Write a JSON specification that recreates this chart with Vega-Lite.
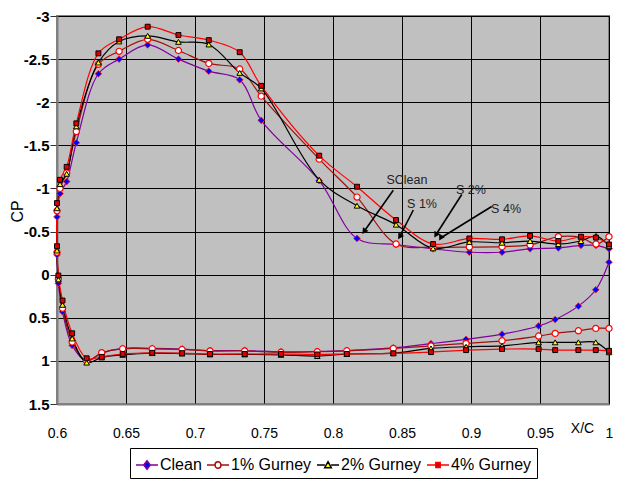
{
  "$schema": "https://vega.github.io/schema/vega-lite/v6.json",
  "width": 552,
  "height": 388,
  "autosize": {"type": "none"},
  "padding": {"left": 57, "top": 16, "right": 18, "bottom": 78},
  "background": "white",
  "config": {
    "font": "Liberation Sans",
    "view": {"fill": "#C0C0C0", "stroke": "#808080", "strokeWidth": 2}
  },
  "datasets": {
    "cp": [
      {"s":"Clean","i":0,"x":1.0,"cp":-0.30},
      {"s":"Clean","i":1,"x":0.9906,"cp":-0.34},
      {"s":"Clean","i":2,"x":0.9797,"cp":-0.34},
      {"s":"Clean","i":3,"x":0.9633,"cp":-0.31},
      {"s":"Clean","i":4,"x":0.9428,"cp":-0.30},
      {"s":"Clean","i":5,"x":0.9225,"cp":-0.26},
      {"s":"Clean","i":6,"x":0.8988,"cp":-0.26},
      {"s":"Clean","i":7,"x":0.8725,"cp":-0.30},
      {"s":"Clean","i":8,"x":0.8457,"cp":-0.35},
      {"s":"Clean","i":9,"x":0.8174,"cp":-0.42},
      {"s":"Clean","i":10,"x":0.79,"cp":-1.09},
      {"s":"Clean","i":11,"x":0.748,"cp":-1.79},
      {"s":"Clean","i":12,"x":0.7324,"cp":-2.26},
      {"s":"Clean","i":13,"x":0.71,"cp":-2.36},
      {"s":"Clean","i":14,"x":0.688,"cp":-2.50},
      {"s":"Clean","i":15,"x":0.6657,"cp":-2.665},
      {"s":"Clean","i":16,"x":0.645,"cp":-2.50},
      {"s":"Clean","i":17,"x":0.63,"cp":-2.33},
      {"s":"Clean","i":18,"x":0.614,"cp":-1.53},
      {"s":"Clean","i":19,"x":0.607,"cp":-1.08},
      {"s":"Clean","i":20,"x":0.6022,"cp":-0.94},
      {"s":"Clean","i":21,"x":0.6,"cp":-0.67},
      {"s":"Clean","i":22,"x":0.6,"cp":-0.23},
      {"s":"Clean","i":23,"x":0.601,"cp":0.10},
      {"s":"Clean","i":24,"x":0.604,"cp":0.43},
      {"s":"Clean","i":25,"x":0.611,"cp":0.82},
      {"s":"Clean","i":26,"x":0.6215,"cp":1.00},
      {"s":"Clean","i":27,"x":0.6324,"cp":0.91},
      {"s":"Clean","i":28,"x":0.6476,"cp":0.855},
      {"s":"Clean","i":29,"x":0.669,"cp":0.855},
      {"s":"Clean","i":30,"x":0.6906,"cp":0.863},
      {"s":"Clean","i":31,"x":0.7109,"cp":0.88},
      {"s":"Clean","i":32,"x":0.736,"cp":0.88},
      {"s":"Clean","i":33,"x":0.7623,"cp":0.895},
      {"s":"Clean","i":34,"x":0.7886,"cp":0.89},
      {"s":"Clean","i":35,"x":0.81,"cp":0.88},
      {"s":"Clean","i":36,"x":0.8437,"cp":0.85},
      {"s":"Clean","i":37,"x":0.871,"cp":0.80},
      {"s":"Clean","i":38,"x":0.8964,"cp":0.75},
      {"s":"Clean","i":39,"x":0.9225,"cp":0.69},
      {"s":"Clean","i":40,"x":0.949,"cp":0.595},
      {"s":"Clean","i":41,"x":0.961,"cp":0.52},
      {"s":"Clean","i":42,"x":0.9778,"cp":0.365},
      {"s":"Clean","i":43,"x":0.9904,"cp":0.175},
      {"s":"Clean","i":44,"x":1.0,"cp":-0.145},

      {"s":"1% Gurney","i":0,"x":1.0,"cp":-0.44},
      {"s":"1% Gurney","i":1,"x":0.9906,"cp":-0.355},
      {"s":"1% Gurney","i":2,"x":0.9797,"cp":-0.43},
      {"s":"1% Gurney","i":3,"x":0.9633,"cp":-0.44},
      {"s":"1% Gurney","i":4,"x":0.9428,"cp":-0.345},
      {"s":"1% Gurney","i":5,"x":0.9225,"cp":-0.325},
      {"s":"1% Gurney","i":6,"x":0.8988,"cp":-0.32},
      {"s":"1% Gurney","i":7,"x":0.8725,"cp":-0.32},
      {"s":"1% Gurney","i":8,"x":0.8457,"cp":-0.355},
      {"s":"1% Gurney","i":9,"x":0.8174,"cp":-0.90},
      {"s":"1% Gurney","i":10,"x":0.79,"cp":-1.34},
      {"s":"1% Gurney","i":11,"x":0.748,"cp":-2.07},
      {"s":"1% Gurney","i":12,"x":0.7324,"cp":-2.385},
      {"s":"1% Gurney","i":13,"x":0.71,"cp":-2.45},
      {"s":"1% Gurney","i":14,"x":0.688,"cp":-2.60},
      {"s":"1% Gurney","i":15,"x":0.6657,"cp":-2.73},
      {"s":"1% Gurney","i":16,"x":0.645,"cp":-2.59},
      {"s":"1% Gurney","i":17,"x":0.63,"cp":-2.44},
      {"s":"1% Gurney","i":18,"x":0.614,"cp":-1.66},
      {"s":"1% Gurney","i":19,"x":0.607,"cp":-1.18},
      {"s":"1% Gurney","i":20,"x":0.6022,"cp":-1.00},
      {"s":"1% Gurney","i":21,"x":0.6,"cp":-0.74},
      {"s":"1% Gurney","i":22,"x":0.6,"cp":-0.26},
      {"s":"1% Gurney","i":23,"x":0.601,"cp":0.05},
      {"s":"1% Gurney","i":24,"x":0.604,"cp":0.39},
      {"s":"1% Gurney","i":25,"x":0.611,"cp":0.78},
      {"s":"1% Gurney","i":26,"x":0.6215,"cp":1.0},
      {"s":"1% Gurney","i":27,"x":0.6324,"cp":0.905},
      {"s":"1% Gurney","i":28,"x":0.6476,"cp":0.86},
      {"s":"1% Gurney","i":29,"x":0.669,"cp":0.86},
      {"s":"1% Gurney","i":30,"x":0.6906,"cp":0.868},
      {"s":"1% Gurney","i":31,"x":0.7109,"cp":0.885},
      {"s":"1% Gurney","i":32,"x":0.736,"cp":0.885},
      {"s":"1% Gurney","i":33,"x":0.7623,"cp":0.9},
      {"s":"1% Gurney","i":34,"x":0.7886,"cp":0.894},
      {"s":"1% Gurney","i":35,"x":0.81,"cp":0.883},
      {"s":"1% Gurney","i":36,"x":0.8437,"cp":0.855},
      {"s":"1% Gurney","i":37,"x":0.871,"cp":0.826},
      {"s":"1% Gurney","i":38,"x":0.8964,"cp":0.797},
      {"s":"1% Gurney","i":39,"x":0.9225,"cp":0.767},
      {"s":"1% Gurney","i":40,"x":0.949,"cp":0.712},
      {"s":"1% Gurney","i":41,"x":0.961,"cp":0.681},
      {"s":"1% Gurney","i":42,"x":0.9778,"cp":0.651},
      {"s":"1% Gurney","i":43,"x":0.9904,"cp":0.623},
      {"s":"1% Gurney","i":44,"x":1.0,"cp":0.623},

      {"s":"2% Gurney","i":0,"x":1.0,"cp":-0.33},
      {"s":"2% Gurney","i":1,"x":0.9906,"cp":-0.45},
      {"s":"2% Gurney","i":2,"x":0.9797,"cp":-0.39},
      {"s":"2% Gurney","i":3,"x":0.9633,"cp":-0.355},
      {"s":"2% Gurney","i":4,"x":0.9428,"cp":-0.39},
      {"s":"2% Gurney","i":5,"x":0.9225,"cp":-0.37},
      {"s":"2% Gurney","i":6,"x":0.8988,"cp":-0.38},
      {"s":"2% Gurney","i":7,"x":0.8725,"cp":-0.305},
      {"s":"2% Gurney","i":8,"x":0.8457,"cp":-0.58},
      {"s":"2% Gurney","i":9,"x":0.8174,"cp":-0.80},
      {"s":"2% Gurney","i":10,"x":0.79,"cp":-1.10},
      {"s":"2% Gurney","i":11,"x":0.748,"cp":-2.16},
      {"s":"2% Gurney","i":12,"x":0.7324,"cp":-2.34},
      {"s":"2% Gurney","i":13,"x":0.71,"cp":-2.67},
      {"s":"2% Gurney","i":14,"x":0.688,"cp":-2.70},
      {"s":"2% Gurney","i":15,"x":0.6657,"cp":-2.77},
      {"s":"2% Gurney","i":16,"x":0.645,"cp":-2.705},
      {"s":"2% Gurney","i":17,"x":0.63,"cp":-2.46},
      {"s":"2% Gurney","i":18,"x":0.614,"cp":-1.72},
      {"s":"2% Gurney","i":19,"x":0.607,"cp":-1.17},
      {"s":"2% Gurney","i":20,"x":0.6022,"cp":-1.05},
      {"s":"2% Gurney","i":21,"x":0.6,"cp":-0.77},
      {"s":"2% Gurney","i":22,"x":0.6,"cp":-0.28},
      {"s":"2% Gurney","i":23,"x":0.601,"cp":0.055},
      {"s":"2% Gurney","i":24,"x":0.604,"cp":0.35},
      {"s":"2% Gurney","i":25,"x":0.611,"cp":0.74},
      {"s":"2% Gurney","i":26,"x":0.6215,"cp":1.02},
      {"s":"2% Gurney","i":27,"x":0.6324,"cp":0.96},
      {"s":"2% Gurney","i":28,"x":0.6476,"cp":0.93},
      {"s":"2% Gurney","i":29,"x":0.669,"cp":0.91},
      {"s":"2% Gurney","i":30,"x":0.6906,"cp":0.915},
      {"s":"2% Gurney","i":31,"x":0.7109,"cp":0.925},
      {"s":"2% Gurney","i":32,"x":0.736,"cp":0.925},
      {"s":"2% Gurney","i":33,"x":0.7623,"cp":0.93},
      {"s":"2% Gurney","i":34,"x":0.7886,"cp":0.944},
      {"s":"2% Gurney","i":35,"x":0.81,"cp":0.92},
      {"s":"2% Gurney","i":36,"x":0.8437,"cp":0.91},
      {"s":"2% Gurney","i":37,"x":0.871,"cp":0.855},
      {"s":"2% Gurney","i":38,"x":0.8964,"cp":0.836},
      {"s":"2% Gurney","i":39,"x":0.9225,"cp":0.825},
      {"s":"2% Gurney","i":40,"x":0.949,"cp":0.785},
      {"s":"2% Gurney","i":41,"x":0.961,"cp":0.785},
      {"s":"2% Gurney","i":42,"x":0.9778,"cp":0.785},
      {"s":"2% Gurney","i":43,"x":0.9904,"cp":0.785},
      {"s":"2% Gurney","i":44,"x":1.0,"cp":0.90},

      {"s":"4% Gurney","i":0,"x":1.0,"cp":-0.35},
      {"s":"4% Gurney","i":1,"x":0.9906,"cp":-0.43},
      {"s":"4% Gurney","i":2,"x":0.9797,"cp":-0.44},
      {"s":"4% Gurney","i":3,"x":0.9633,"cp":-0.39},
      {"s":"4% Gurney","i":4,"x":0.9428,"cp":-0.45},
      {"s":"4% Gurney","i":5,"x":0.9225,"cp":-0.41},
      {"s":"4% Gurney","i":6,"x":0.8988,"cp":-0.42},
      {"s":"4% Gurney","i":7,"x":0.8725,"cp":-0.355},
      {"s":"4% Gurney","i":8,"x":0.8457,"cp":-0.633},
      {"s":"4% Gurney","i":9,"x":0.8174,"cp":-1.02},
      {"s":"4% Gurney","i":10,"x":0.79,"cp":-1.38},
      {"s":"4% Gurney","i":11,"x":0.748,"cp":-2.19},
      {"s":"4% Gurney","i":12,"x":0.7324,"cp":-2.58},
      {"s":"4% Gurney","i":13,"x":0.71,"cp":-2.72},
      {"s":"4% Gurney","i":14,"x":0.688,"cp":-2.78},
      {"s":"4% Gurney","i":15,"x":0.6657,"cp":-2.876},
      {"s":"4% Gurney","i":16,"x":0.645,"cp":-2.73},
      {"s":"4% Gurney","i":17,"x":0.63,"cp":-2.567},
      {"s":"4% Gurney","i":18,"x":0.614,"cp":-1.755},
      {"s":"4% Gurney","i":19,"x":0.607,"cp":-1.25},
      {"s":"4% Gurney","i":20,"x":0.6022,"cp":-1.10},
      {"s":"4% Gurney","i":21,"x":0.6,"cp":-0.83},
      {"s":"4% Gurney","i":22,"x":0.6,"cp":-0.33},
      {"s":"4% Gurney","i":23,"x":0.601,"cp":0.01},
      {"s":"4% Gurney","i":24,"x":0.604,"cp":0.30},
      {"s":"4% Gurney","i":25,"x":0.611,"cp":0.68},
      {"s":"4% Gurney","i":26,"x":0.6215,"cp":0.97},
      {"s":"4% Gurney","i":27,"x":0.6324,"cp":0.953},
      {"s":"4% Gurney","i":28,"x":0.6476,"cp":0.92},
      {"s":"4% Gurney","i":29,"x":0.669,"cp":0.906},
      {"s":"4% Gurney","i":30,"x":0.6906,"cp":0.91},
      {"s":"4% Gurney","i":31,"x":0.7109,"cp":0.92},
      {"s":"4% Gurney","i":32,"x":0.736,"cp":0.92},
      {"s":"4% Gurney","i":33,"x":0.7623,"cp":0.92},
      {"s":"4% Gurney","i":34,"x":0.7886,"cp":0.925},
      {"s":"4% Gurney","i":35,"x":0.81,"cp":0.92},
      {"s":"4% Gurney","i":36,"x":0.8437,"cp":0.913},
      {"s":"4% Gurney","i":37,"x":0.871,"cp":0.898},
      {"s":"4% Gurney","i":38,"x":0.8964,"cp":0.875},
      {"s":"4% Gurney","i":39,"x":0.9225,"cp":0.863},
      {"s":"4% Gurney","i":40,"x":0.949,"cp":0.863},
      {"s":"4% Gurney","i":41,"x":0.961,"cp":0.875},
      {"s":"4% Gurney","i":42,"x":0.9778,"cp":0.875},
      {"s":"4% Gurney","i":43,"x":0.9904,"cp":0.875},
      {"s":"4% Gurney","i":44,"x":1.0,"cp":0.883}
    ],
    "ann": [
      {"label":"SClean","tx":0.8536,"ty":-1.10,"x1":0.8437,"y1":-0.98,"hx":0.8225,"hy":-0.50},
      {"label":"S 1%","tx":0.8645,"ty":-0.825,"x1":0.8582,"y1":-0.75,"hx":0.8483,"hy":-0.44},
      {"label":"S 2%","tx":0.9,"ty":-0.98,"x1":0.8933,"y1":-0.93,"hx":0.8745,"hy":-0.46},
      {"label":"S 4%","tx":0.9254,"ty":-0.76,"x1":0.915,"y1":-0.79,"hx":0.878,"hy":-0.425}
    ]
  },
  "layer": [
    {
      "data": {"name": "cp"},
      "mark": {"type": "line", "interpolate": "catmull-rom", "strokeWidth": 1.2},
      "encoding": {
        "x": {
          "field": "x", "type": "quantitative",
          "scale": {"domain": [0.6, 1], "nice": false, "zero": false},
          "axis": {
            "values": [0.6, 0.65, 0.7, 0.75, 0.8, 0.85, 0.9, 0.95, 1],
            "labelExpr": "'' + datum.value",
            "title": "X/C",
            "grid": true, "gridColor": "#000", "gridWidth": 1, "gridOpacity": 1,
            "ticks": false, "labelPadding": 22, "labelFlush": false, "labelOverlap": false,
            "labelFont": "Liberation Sans", "labelFontSize": 14, "labelColor": "#000",
            "domainColor": "#808080", "domainWidth": 2,
            "titleFont": "Liberation Sans", "titleFontSize": 14, "titleFontWeight": "normal", "titleColor": "#000",
            "titleX": 525, "titleY": 24, "titleBaseline": "middle", "titleAlign": "center"
          }
        },
        "y": {
          "field": "cp", "type": "quantitative",
          "scale": {"domain": [-3, 1.5], "reverse": true, "nice": false, "zero": false},
          "axis": {
            "values": [-3, -2.5, -2, -1.5, -1, -0.5, 0, 0.5, 1, 1.5],
            "labelExpr": "'' + datum.value",
            "title": "CP",
            "grid": true, "gridColor": "#000", "gridWidth": 1, "gridOpacity": 1,
            "tickSize": 7, "tickColor": "#333", "labelPadding": 1, "labelFlush": false, "labelOverlap": false,
            "labelFont": "Liberation Sans", "labelFontSize": 15, "labelFontWeight": "bold", "labelColor": "#000",
            "domainColor": "#808080", "domainWidth": 2,
            "titleFont": "Liberation Sans", "titleFontSize": 16, "titleFontWeight": "normal", "titleColor": "#000",
            "titleX": -40, "titleY": 195, "titleAngle": -90, "titleAlign": "center", "titleBaseline": "middle"
          }
        },
        "order": {"field": "i", "type": "quantitative"},
        "color": {
          "field": "s", "type": "nominal",
          "scale": {"domain": ["Clean", "1% Gurney", "2% Gurney", "4% Gurney"], "range": ["#8000A0", "#A01010", "#000000", "#FF0000"]},
          "legend": {
            "title": null, "orient": "none", "legendX": 73, "legendY": 432,
            "direction": "horizontal", "columns": 4,
            "strokeColor": "#000", "fillColor": "#fff", "padding": 5,
            "columnPadding": 2, "labelOffset": 1, "rowPadding": 0,
            "symbolSize": 484, "symbolStrokeWidth": 1.5,
            "labelFont": "Liberation Sans", "labelFontSize": 16, "labelColor": "#000", "labelLimit": 300,
            "encode": {
              "symbols": {
                "update": {
                  "shape": {"signal": "datum.value === 'Clean' ? 'M-1,0H-0.3M0.3,0H1M0,-0.38L0.3,0L0,0.38L-0.3,0Z' : datum.value === '1% Gurney' ? 'M-1,0H-0.27M0.27,0H1M0.27,0A0.27,0.3 0 1,1 -0.27,0A0.27,0.3 0 1,1 0.27,0Z' : datum.value === '2% Gurney' ? 'M-1,0H-0.28M0.28,0H1M0,-0.3L0.3,0.25L-0.3,0.25Z' : 'M-1,0H-0.2M0.2,0H1M-0.2,-0.22H0.2V0.22H-0.2Z'"},
                  "fill": {"signal": "datum.value === 'Clean' ? '#0000FF' : datum.value === '1% Gurney' ? '#FFFFFF' : datum.value === '2% Gurney' ? '#FFFF00' : '#CC0000'"},
                  "fillOpacity": {"value": 1}
                }
              }
            }
          }
        }
      }
    },
    {
      "data": {"name": "cp"},
      "transform": [{"filter": "datum.s === 'Clean'"}],
      "mark": {"type": "point", "shape": "diamond", "filled": true, "fill": "#0000FF", "stroke": "#FF2020", "strokeWidth": 0.8, "size": 45, "opacity": 1},
      "encoding": {
        "x": {"field": "x", "type": "quantitative", "axis": {"title": "X/C"}},
        "y": {"field": "cp", "type": "quantitative", "axis": {"title": "CP"}}
      }
    },
    {
      "data": {"name": "cp"},
      "transform": [{"filter": "datum.s === '1% Gurney'"}],
      "mark": {"type": "point", "shape": "circle", "filled": true, "fill": "#FFFFFF", "stroke": "#FF0000", "strokeWidth": 1.2, "size": 38, "opacity": 1},
      "encoding": {
        "x": {"field": "x", "type": "quantitative", "axis": {"title": "X/C"}},
        "y": {"field": "cp", "type": "quantitative", "axis": {"title": "CP"}}
      }
    },
    {
      "data": {"name": "cp"},
      "transform": [{"filter": "datum.s === '2% Gurney'"}],
      "mark": {"type": "point", "shape": "triangle-up", "filled": true, "fill": "#FFFF00", "stroke": "#000000", "strokeWidth": 1, "size": 32, "opacity": 1},
      "encoding": {
        "x": {"field": "x", "type": "quantitative", "axis": {"title": "X/C"}},
        "y": {"field": "cp", "type": "quantitative", "axis": {"title": "CP"}}
      }
    },
    {
      "data": {"name": "cp"},
      "transform": [{"filter": "datum.s === '4% Gurney'"}],
      "mark": {"type": "point", "shape": "square", "filled": true, "fill": "#E00000", "stroke": "#000000", "strokeWidth": 1, "size": 24, "opacity": 1},
      "encoding": {
        "x": {"field": "x", "type": "quantitative", "axis": {"title": "X/C"}},
        "y": {"field": "cp", "type": "quantitative", "axis": {"title": "CP"}}
      }
    },
    {
      "data": {"name": "ann"},
      "mark": {"type": "rule", "color": "#000", "strokeWidth": 1.6},
      "encoding": {
        "x": {"field": "x1", "type": "quantitative", "axis": {"title": "X/C"}},
        "y": {"field": "y1", "type": "quantitative", "axis": {"title": "CP"}},
        "x2": {"field": "hx"},
        "y2": {"field": "hy"}
      }
    },
    {
      "data": {"name": "ann"},
      "mark": {"type": "point", "shape": "triangle-up", "filled": true, "color": "#000", "size": 45, "opacity": 1},
      "encoding": {
        "x": {"field": "hx", "type": "quantitative", "axis": {"title": "X/C"}},
        "y": {"field": "hy", "type": "quantitative", "axis": {"title": "CP"}},
        "angle": {"field": "label", "type": "nominal", "legend": null,
          "scale": {"domain": ["SClean", "S 1%", "S 2%", "S 4%"], "range": [215, 209, 212, 239]}}
      }
    },
    {
      "data": {"name": "ann"},
      "mark": {"type": "text", "font": "Liberation Sans", "fontSize": 12.5, "color": "#222", "align": "center", "baseline": "middle"},
      "encoding": {
        "x": {"field": "tx", "type": "quantitative", "axis": {"title": "X/C"}},
        "y": {"field": "ty", "type": "quantitative", "axis": {"title": "CP"}},
        "text": {"field": "label"}
      }
    }
  ]
}
